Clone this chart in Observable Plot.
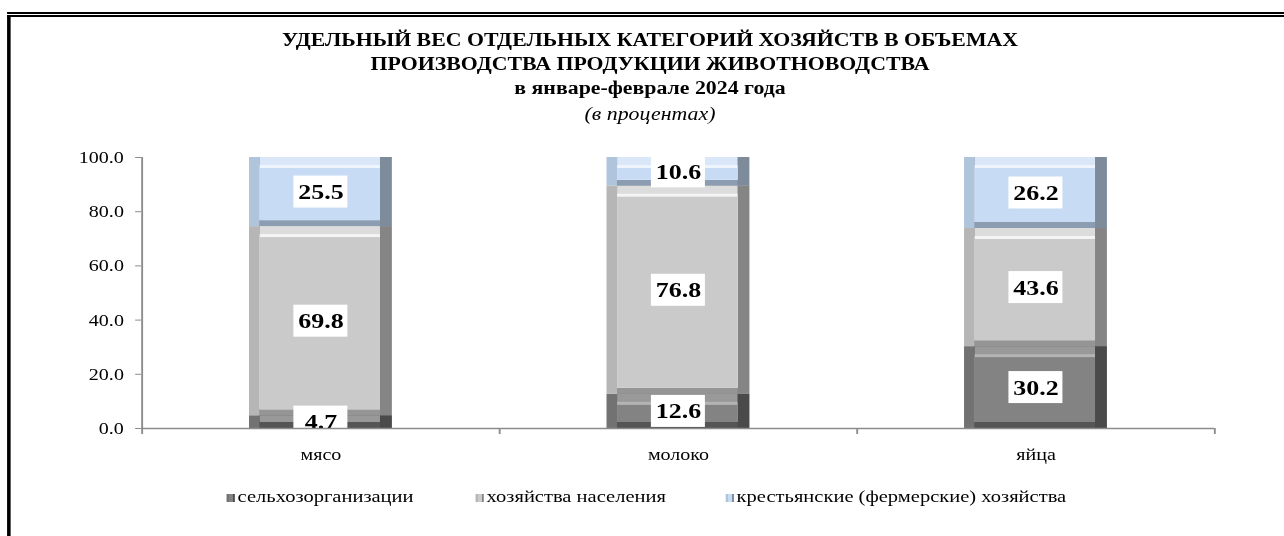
<!DOCTYPE html>
<html>
<head>
<meta charset="utf-8">
<script src="https://cdn.jsdelivr.net/npm/d3@7"></script>
<script src="https://cdn.jsdelivr.net/npm/@observablehq/plot@0.6"></script>
<style>
  html, body { margin: 0; padding: 0; background: #fff; width: 1284px; height: 536px; overflow: hidden; }
  #stage { position: absolute; left: 0; top: 0; height: 536px; transform-origin: 0 0; font-family: "Liberation Serif", "Times New Roman", serif; color: #000; }
  .line { position: absolute; background: #000; }
  .title { position: absolute; left: 0; text-align: center; white-space: nowrap; height: 24px; line-height: 24px; }
  .leg { position: absolute; top: 486px; height: 20px; line-height: 20px; font-size: 17.4px; white-space: nowrap; }
  .sw { display: inline-block; width: 7px; height: 8px; margin-right: 2px; vertical-align: 0px; }
  #plot { position: absolute; left: 0; top: 140px; }
</style>
</head>
<body>
<div id="stage"></div>
<script>
// ---- data ----
const categories = ["мясо", "молоко", "яйца"];
const seriesNames = ["сельхозорганизации", "хозяйства населения", "крестьянские (фермерские) хозяйства"];
const agroOrgs   = [4.7, 12.6, 30.2];
const households = [69.8, 76.8, 43.6];
const farms      = [25.5, 10.6, 26.2];
const yTicks = [0, 20, 40, 60, 80, 100];
const titleLines = [
  "УДЕЛЬНЫЙ ВЕС ОТДЕЛЬНЫХ КАТЕГОРИЙ ХОЗЯЙСТВ В ОБЪЕМАХ",
  "ПРОИЗВОДСТВА ПРОДУКЦИИ ЖИВОТНОВОДСТВА",
  "в январе-феврале 2024 года",
  "(в процентах)"
];

// ---- styles ----
const S = 1.18;                 // horizontal stretch of the reference
const W = 1284 / S;
const palette = {
  "сельхозорганизации":                  {face: "#838383", top: "#999999", hl: "#b4b4b4", left: "#727272", right: "#4a4a4a", bottom: "#555555"},
  "хозяйства населения":                 {face: "#cacaca", top: "#dcdcdc", hl: "#f4f4f4", left: "#b6b6b6", right: "#858585", bottom: "#959595"},
  "крестьянские (фермерские) хозяйства": {face: "#c7dbf4", top: "#d9e7f8", hl: "#eef5fd", left: "#b0c4dc", right: "#7e8b9a", bottom: "#8c9db1"}
};
const axisColor = "#8c8c8c";

// ---- table ----
const seriesValues = [agroOrgs, households, farms];
const table = [];
categories.forEach((c, i) => {
  let acc = 0;
  seriesNames.forEach((s, j) => {
    const v = seriesValues[j][i];
    table.push({cat: c, series: s, value: v, mid: acc + v / 2});
    acc += v;
  });
});

const stage = document.getElementById("stage");
stage.style.width = W + "px";
stage.style.transform = `scaleX(${S})`;

// border
function addLine(l, t, w, h) {
  const d = document.createElement("div");
  d.className = "line";
  Object.assign(d.style, {left: l + "px", top: t + "px", width: w + "px", height: h + "px"});
  stage.appendChild(d);
}
addLine(7 / S, 12, W, 2.2);
addLine(7 / S, 15.4, W, 1.8);
addLine(6.5 / S, 15.4, 4 / S, 536);

// title
const titleCenter = 650 / S;
const titleTops = [28, 52, 76, 102];
titleLines.forEach((t, i) => {
  const d = document.createElement("div");
  d.className = "title";
  d.textContent = t;
  d.style.top = titleTops[i] + "px";
  d.style.width = (2 * titleCenter) + "px";
  d.style.fontSize = "18.5px";
  d.style.fontWeight = i < 3 ? "bold" : "normal";
  d.style.fontStyle = i < 3 ? "normal" : "italic";
  stage.appendChild(d);
});

// plot
const mL = 141 / S, mR = (1284 - 1214) / S;
const step = (W - mL - mR) / categories.length;
const stackOpts = {x: "cat", y: "value", order: seriesNames};
const layer = (key, insets) => Plot.barY(table, Plot.stackY({...stackOpts, fill: d => palette[d.series][key], ...insets}));
const boxHalf = 16 / 2.71;
const boxInset = (step * 0.4 - 46) / 2;

const chart = Plot.plot({
  width: W,
  height: 330,
  marginTop: 17,
  marginBottom: 42,
  marginLeft: mL,
  marginRight: mR,
  style: {fontFamily: "Liberation Serif, Times New Roman, serif", fontSize: "17px", color: "#000", background: "transparent"},
  x: {domain: categories, paddingInner: 0.6, paddingOuter: 0.3, align: 0.5, label: null},
  y: {domain: [0, 100], label: null},
  color: {type: "identity"},
  marks: [
    layer("left", {}),
    layer("right", {insetLeft: 9}),
    layer("bottom", {insetLeft: 9, insetRight: 10}),
    layer("top", {insetLeft: 9, insetRight: 10, insetBottom: 6}),
    layer("hl", {insetLeft: 9, insetRight: 10, insetTop: 8, insetBottom: 6}),
    layer("face", {insetLeft: 9, insetRight: 10, insetTop: 11, insetBottom: 6}),
    Plot.barY(table, {x: "cat", y1: d => d.mid - boxHalf, y2: d => d.mid + boxHalf, fill: "#fff", insetLeft: boxInset, insetRight: boxInset, clip: true}),
    Plot.text(table, {x: "cat", y: "mid", text: d => d.value.toFixed(1), fontSize: 22, fontWeight: "bold", fill: "#000", clip: true}),
    Plot.ruleY([0], {stroke: axisColor, strokeWidth: 1.6}),
    Plot.ruleX(categories.slice(0, 1), {x: d => d, y1: 0, y2: 100, dx: -step / 2, stroke: axisColor, strokeWidth: 1.6}),
    Plot.ruleX(categories, {x: d => d, y1: 0, y2: 0, insetBottom: -6, dx: -step / 2, stroke: axisColor, strokeWidth: 1.6}),
    Plot.ruleX([categories[categories.length - 1]], {x: d => d, y1: 0, y2: 0, insetBottom: -6, dx: step / 2, stroke: axisColor, strokeWidth: 1.6}),
    Plot.axisY({ticks: yTicks, tickFormat: d => d.toFixed(1), tickSize: 5, tickPadding: 10, stroke: axisColor, fill: "#000", label: null}),
    Plot.axisX({tickSize: 0, tickPadding: 19, fill: "#000", label: null})
  ]
});
chart.id = "plot";
stage.appendChild(chart);

// legend
const legLefts = [227 / S, 476 / S, 726 / S];
seriesNames.forEach((s, i) => {
  const p = palette[s];
  const d = document.createElement("div");
  d.className = "leg";
  d.style.left = legLefts[i] + "px";
  const sw = document.createElement("span");
  sw.className = "sw";
  sw.style.background = `linear-gradient(90deg, ${p.left} 0 25%, ${p.face} 25% 75%, ${p.right} 75% 100%)`;
  d.appendChild(sw);
  d.appendChild(document.createTextNode(s));
  stage.appendChild(d);
});
</script>
</body>
</html>
